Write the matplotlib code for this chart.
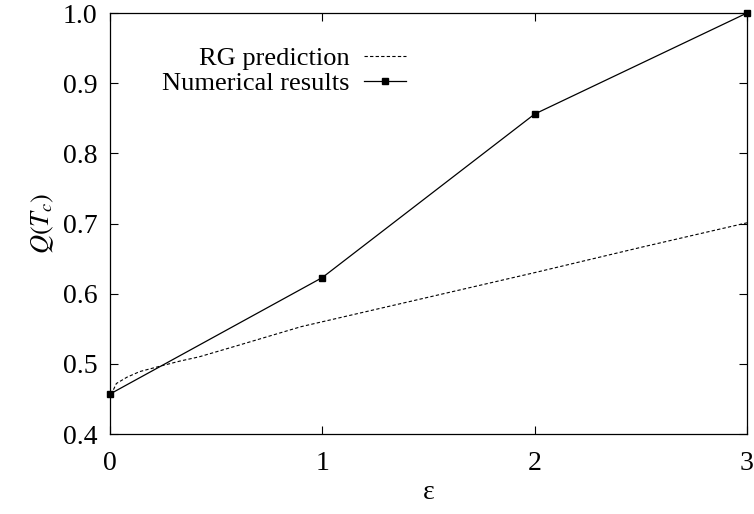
import matplotlib
matplotlib.use("Agg")
import matplotlib.pyplot as plt

# values
eps_num = [0, 1, 2, 3]
q_num = [0.457, 0.623, 0.856, 1.0]

eps_rg = [0, 0.016, 0.03, 0.08, 0.14, 0.24, 0.33, 0.42, 0.6, 0.9, 1.0, 1.5, 2.0, 2.5, 3.0]
q_rg = [0.457, 0.463, 0.472, 0.481, 0.489, 0.497, 0.504, 0.510, 0.526, 0.553, 0.560,
        0.595, 0.630, 0.666, 0.701]

x_ticks = [0, 1, 2, 3]
y_ticks = [0.4, 0.5, 0.6, 0.7, 0.8, 0.9, 1.0]

plt.rcParams['font.family'] = ['Liberation Serif', 'DejaVu Serif']
plt.rcParams['mathtext.fontset'] = 'stix'

fig = plt.figure(figsize=(7.54, 5.14), dpi=100)
ax = fig.add_axes([0.1459, 0.1556, 0.8448, 0.8191])

ax.plot(eps_rg, q_rg, color='black', linewidth=0.8, linestyle=(0, (3, 2)),
        label='RG prediction')
ax.plot(eps_num, q_num, color='black', linewidth=0.9, marker='s', markersize=5,
        label='Numerical results', clip_on=False, zorder=3)

ax.set_xlim(0, 3)
ax.set_ylim(0.4, 1.0)
ax.set_xticks(x_ticks)
ax.set_xticklabels([str(t) for t in x_ticks])
ax.set_yticks(y_ticks)
ax.set_yticklabels(['%.1f' % t for t in y_ticks])
ax.tick_params(direction='in', length=6, width=0.8, top=True, right=True,
               labelsize=20, pad=9)
ax.tick_params(axis='x', pad=12)
for s in ax.spines.values():
    s.set_linewidth(0.9)

ax.set_xlabel('ε', fontsize=20, labelpad=3)
ax.set_ylabel('$Q(T_c)$', fontsize=19, labelpad=5)

leg = ax.legend(loc='upper right', bbox_to_anchor=(0.465, 0.92), frameon=False,
                markerfirst=False, fontsize=19, handlelength=1.6, handletextpad=0.55,
                labelspacing=0.05, borderpad=0, borderaxespad=0)
for t in leg.get_texts():
    t.set_ha('right')

fig.savefig('out.png', dpi=100)
